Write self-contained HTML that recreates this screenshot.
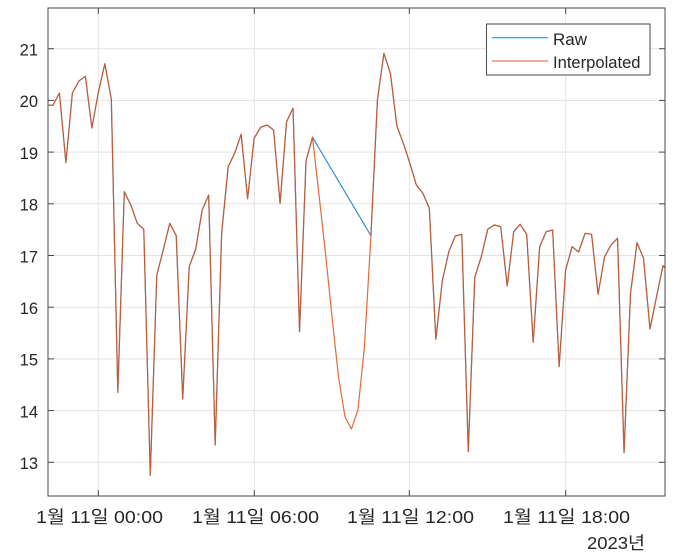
<!DOCTYPE html>
<html><head><meta charset="utf-8"><style>
html,body{margin:0;padding:0;background:#fff;}
svg{display:block;}
text{font-family:"Liberation Sans","Noto Sans CJK KR",sans-serif;fill:#262626;}
</style></head><body>
<svg width="676" height="559" viewBox="0 0 676 559" xmlns="http://www.w3.org/2000/svg">
<rect x="0" y="0" width="676" height="559" fill="#fff"/>
<defs><clipPath id="c"><rect x="48" y="8" width="617" height="488"/></clipPath></defs>
<g stroke="#e3e3e3" stroke-width="1">
<line x1="98.3" y1="8" x2="98.3" y2="496"/>
<line x1="254.3" y1="8" x2="254.3" y2="496"/>
<line x1="409.3" y1="8" x2="409.3" y2="496"/>
<line x1="565.7" y1="8" x2="565.7" y2="496"/>
<line x1="48" y1="48.7" x2="665" y2="48.7"/>
<line x1="48" y1="100.4" x2="665" y2="100.4"/>
<line x1="48" y1="152.1" x2="665" y2="152.1"/>
<line x1="48" y1="203.8" x2="665" y2="203.8"/>
<line x1="48" y1="255.5" x2="665" y2="255.5"/>
<line x1="48" y1="307.2" x2="665" y2="307.2"/>
<line x1="48" y1="358.9" x2="665" y2="358.9"/>
<line x1="48" y1="410.6" x2="665" y2="410.6"/>
<line x1="48" y1="462.3" x2="665" y2="462.3"/>
</g>
<g clip-path="url(#c)" fill="none" stroke-width="1.2" stroke-linejoin="round">
<polyline stroke="#3a8fd0" points="46.43,105 52.92,105.3 59.41,93 65.90,162.7 72.39,93 78.88,81 85.37,76.3 91.86,128 98.35,92.3 104.84,63.7 111.33,99.3 117.82,392.3 124.31,191.7 130.80,205 137.29,223.3 143.78,229.3 150.27,475.3 156.76,275 163.25,250 169.74,223.3 176.23,235.7 182.72,399 189.21,266.7 195.70,249 202.19,210 208.68,195 215.17,445 221.66,233.3 228.15,166.7 234.64,153.3 241.13,134.3 247.62,198.7 254.11,138.3 260.60,127.3 267.09,125 273.58,130 280.07,203.3 286.56,121.7 293.05,108.3 299.54,331.7 306.03,160.7 312.52,137.3 370.93,235.7 377.42,100 383.91,53.3 390.40,73.3 396.89,126 403.38,143.3 409.87,163.3 416.36,185 422.85,193.3 429.34,208.3 435.83,339.3 442.32,280.7 448.81,251.7 455.30,236 461.79,234.3 468.28,451.7 474.77,277.3 481.26,256.7 487.75,229.3 494.24,225 500.73,226.7 507.22,286 513.71,231.7 520.20,224.3 526.69,234.3 533.18,342.3 539.67,246.7 546.16,231.7 552.65,230 559.14,366.7 565.63,270 572.12,246.7 578.61,252 585.10,233.3 591.59,234.3 598.08,294.3 604.57,256.7 611.06,245 617.55,238.3 624.04,452.7 630.53,293.3 637.02,242.7 643.51,258.3 650.00,329 656.49,296.7 662.98,265.7 669.47,273"/>
<polyline stroke="#D95319" stroke-opacity="0.85" points="46.43,105 52.92,105.3 59.41,93 65.90,162.7 72.39,93 78.88,81 85.37,76.3 91.86,128 98.35,92.3 104.84,63.7 111.33,99.3 117.82,392.3 124.31,191.7 130.80,205 137.29,223.3 143.78,229.3 150.27,475.3 156.76,275 163.25,250 169.74,223.3 176.23,235.7 182.72,399 189.21,266.7 195.70,249 202.19,210 208.68,195 215.17,445 221.66,233.3 228.15,166.7 234.64,153.3 241.13,134.3 247.62,198.7 254.11,138.3 260.60,127.3 267.09,125 273.58,130 280.07,203.3 286.56,121.7 293.05,108.3 299.54,331.7 306.03,160.7 312.52,137.3 319.01,195 325.50,253.3 331.99,316.7 338.48,376.7 344.97,416.7 351.46,429 357.95,410 364.44,346.7 370.93,235.7 377.42,100 383.91,53.3 390.40,73.3 396.89,126 403.38,143.3 409.87,163.3 416.36,185 422.85,193.3 429.34,208.3 435.83,339.3 442.32,280.7 448.81,251.7 455.30,236 461.79,234.3 468.28,451.7 474.77,277.3 481.26,256.7 487.75,229.3 494.24,225 500.73,226.7 507.22,286 513.71,231.7 520.20,224.3 526.69,234.3 533.18,342.3 539.67,246.7 546.16,231.7 552.65,230 559.14,366.7 565.63,270 572.12,246.7 578.61,252 585.10,233.3 591.59,234.3 598.08,294.3 604.57,256.7 611.06,245 617.55,238.3 624.04,452.7 630.53,293.3 637.02,242.7 643.51,258.3 650.00,329 656.49,296.7 662.98,265.7 669.47,273"/>
</g>
<g stroke="#4a4a4a" stroke-width="1" fill="none">
<rect x="48" y="8" width="617" height="488"/>
<line x1="98.3" y1="496" x2="98.3" y2="490"/>
<line x1="254.3" y1="496" x2="254.3" y2="490"/>
<line x1="409.3" y1="496" x2="409.3" y2="490"/>
<line x1="565.7" y1="496" x2="565.7" y2="490"/>
<line x1="98.3" y1="8" x2="98.3" y2="14"/>
<line x1="254.3" y1="8" x2="254.3" y2="14"/>
<line x1="409.3" y1="8" x2="409.3" y2="14"/>
<line x1="565.7" y1="8" x2="565.7" y2="14"/>
<line x1="48" y1="48.7" x2="54" y2="48.7"/>
<line x1="48" y1="100.4" x2="54" y2="100.4"/>
<line x1="48" y1="152.1" x2="54" y2="152.1"/>
<line x1="48" y1="203.8" x2="54" y2="203.8"/>
<line x1="48" y1="255.5" x2="54" y2="255.5"/>
<line x1="48" y1="307.2" x2="54" y2="307.2"/>
<line x1="48" y1="358.9" x2="54" y2="358.9"/>
<line x1="48" y1="410.6" x2="54" y2="410.6"/>
<line x1="48" y1="462.3" x2="54" y2="462.3"/>
<line x1="665" y1="48.7" x2="659" y2="48.7"/>
<line x1="665" y1="100.4" x2="659" y2="100.4"/>
<line x1="665" y1="152.1" x2="659" y2="152.1"/>
<line x1="665" y1="203.8" x2="659" y2="203.8"/>
<line x1="665" y1="255.5" x2="659" y2="255.5"/>
<line x1="665" y1="307.2" x2="659" y2="307.2"/>
<line x1="665" y1="358.9" x2="659" y2="358.9"/>
<line x1="665" y1="410.6" x2="659" y2="410.6"/>
<line x1="665" y1="462.3" x2="659" y2="462.3"/>
</g>
<g font-size="16.5" text-anchor="end">
<text x="38" y="55.5">21</text>
<text x="38" y="107.2">20</text>
<text x="38" y="158.9">19</text>
<text x="38" y="210.6">18</text>
<text x="38" y="262.3">17</text>
<text x="38" y="314">16</text>
<text x="38" y="365.7">15</text>
<text x="38" y="417.4">14</text>
<text x="38" y="469.1">13</text>
</g>
<g font-size="17.5">
<text x="36" y="523" textLength="127" lengthAdjust="spacingAndGlyphs">1월 11일 00:00</text>
<text x="192" y="523" textLength="127" lengthAdjust="spacingAndGlyphs">1월 11일 06:00</text>
<text x="347" y="523" textLength="127" lengthAdjust="spacingAndGlyphs">1월 11일 12:00</text>
<text x="503" y="523" textLength="127" lengthAdjust="spacingAndGlyphs">1월 11일 18:00</text>
<text x="587" y="549" textLength="58" lengthAdjust="spacingAndGlyphs">2023년</text>
</g>
<rect x="486.5" y="24" width="163.5" height="51" fill="#fff" stroke="#4a4a4a" stroke-width="1"/>
<line x1="491.7" y1="37.7" x2="548.3" y2="37.7" stroke="#3a8fd0" stroke-width="1.2"/>
<line x1="491.7" y1="61" x2="548.3" y2="61" stroke="#D95319" stroke-opacity="0.75" stroke-width="1.2"/>
<g font-size="17">
<text x="553" y="45">Raw</text>
<text x="553" y="68" textLength="87.5" lengthAdjust="spacingAndGlyphs">Interpolated</text>
</g>
</svg>
</body></html>
